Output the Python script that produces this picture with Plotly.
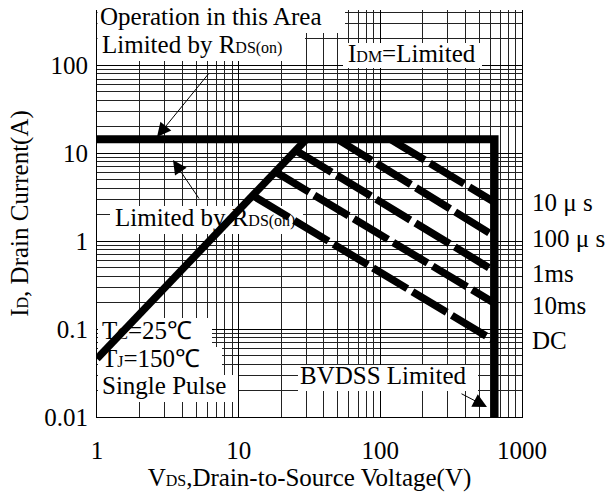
import plotly.graph_objects as go

# ---------------- data ----------------
idm_limit = 14.4            # A, horizontal I_DM limit
vds_max = 640               # V, BVDSS vertical limit
i_bottom = 0.01             # A, bottom of chart

rds_v = [1, 30]             # RDS(on) limit line
rds_i = [0.046, 14.4]

pulse_labels = ["10 μ s", "100 μ s", "1ms", "10ms", "DC"]
pulse_start_v = [118, 50, 26, 18, 13]
pulse_start_i = [14.4, 14.4, 10.5, 6.2, 3.2]
pulse_end_v = [640, 640, 640, 640, 640]
pulse_end_i = [2.77, 1.14, 0.457, 0.197, 0.073]

x_tickvals = [1, 10, 100, 1000]
x_ticktext = ["1", "10", "100", "1000"]
y_tickvals = [0.01, 0.1, 1, 10, 100]
y_ticktext = ["0.01", "0.1", "1", "10", "100"]

# ---------------- layout geometry ----------------
W, H = 607, 501
L, R, T, B = 97, 85, 10, 84
PW, PH = W - L - R, H - T - B
XR = [0, 3]
YR = [-2, 2.63]


def P(xp, yp):
    return (xp - L) / PW, (H - B - yp) / PH


def D(xp, yp):
    """pixel -> data coordinates (for placing label boxes / text)"""
    fx, fy = P(xp, yp)
    return 10 ** (XR[0] + fx * (XR[1] - XR[0])), 10 ** (YR[0] + fy * (YR[1] - YR[0]))


FONT = "Liberation Serif, Times New Roman, serif"
FS = 25
SUB = "<span style='font-size:16px'>{}</span>"

fig = go.Figure()

# ---- white label boxes (traces, so they sit above the grid) ----
boxes = [
    (97.5, 5, 345, 33),
    (97.5, 33, 305, 61),
    (343, 43, 482, 68),
    (110, 206, 303, 234),
    (98, 318, 212, 347),
    (98, 347, 222, 375),
    (98, 375, 238, 402),
    (298, 365, 478, 391),
]
for x0, y0, x1, y1 in boxes:
    a0, b0 = D(x0, y0)
    a1, b1 = D(x1, y1)
    fig.add_trace(go.Scatter(x=[a0, a1, a1, a0, a0], y=[b0, b0, b1, b1, b0],
                             mode="lines", fill="toself", fillcolor="white",
                             line=dict(width=0, color="white"),
                             showlegend=False, hoverinfo="skip"))

# ---- in-plot text labels (drawn before lines so lines are on top) ----
labels = [
    ("Operation in this Area", 100, 19),
    ("Limited by R" + SUB.format("DS(on)"), 102, 47),
    ("I" + SUB.format("DM") + "=Limited", 348, 56),
    ("Limited by R" + SUB.format("DS(on)"), 115, 220),
    ("T" + SUB.format("C") + "=25℃", 102, 333),
    ("T" + SUB.format("J") + "=150℃", 102, 361),
    ("Single Pulse", 102, 388),
    ("BVDSS Limited", 300, 378),
]
for txt, xp, yp in labels:
    xd, yd = D(xp, yp)
    fig.add_trace(go.Scatter(x=[xd], y=[yd], mode="text", text=[txt],
                             textposition="middle right", cliponaxis=False,
                             textfont=dict(family=FONT, size=FS, color="black"),
                             showlegend=False, hoverinfo="skip"))

# pulse lines (dashed)
for sv, si, ev, ei in zip(pulse_start_v, pulse_start_i, pulse_end_v, pulse_end_i):
    fig.add_trace(go.Scatter(x=[sv, ev], y=[si, ei], mode="lines",
                             line=dict(color="black", width=7.5, dash="40px,6px"),
                             showlegend=False, hoverinfo="skip"))

# RDS(on) line
fig.add_trace(go.Scatter(x=rds_v, y=rds_i, mode="lines",
                         line=dict(color="black", width=7.5),
                         showlegend=False, hoverinfo="skip"))
# IDM + BVDSS envelope
fig.add_trace(go.Scatter(x=[1, vds_max, vds_max], y=[idm_limit, idm_limit, i_bottom],
                         mode="lines", line=dict(color="black", width=8),
                         showlegend=False, hoverinfo="skip"))

x_minor = [m * 10 ** k for k in range(0, 3) for m in range(2, 10)]
y_minor = [m * 10.0 ** k for k in range(-2, 3) for m in range(2, 10)]
y_minor = [v for v in y_minor if v < 430]

fig.update_layout(
    width=W, height=H,
    margin=dict(l=L, r=R, t=T, b=B),
    paper_bgcolor="white", plot_bgcolor="white",
    font=dict(family=FONT, size=FS, color="black"),
    xaxis=dict(type="log", range=XR, tickmode="array",
               tickvals=x_tickvals, ticktext=x_ticktext,
               showgrid=True, gridcolor="black", gridwidth=1,
               minor=dict(tickmode="array", tickvals=x_minor, showgrid=True,
                          gridcolor="#222", gridwidth=1, ticks=""),
               showline=True, linecolor="black", linewidth=1,
               ticks="", ticklabelstandoff=11, zeroline=False,
               tickfont=dict(size=FS),
               title=dict(text="V" + SUB.format("DS") + ",Drain-to-Source Voltage(V)",
                          standoff=5, font=dict(size=FS))),
    yaxis=dict(type="log", range=YR, tickmode="array",
               tickvals=y_tickvals, ticktext=y_ticktext,
               showgrid=True, gridcolor="black", gridwidth=1,
               minor=dict(tickmode="array", tickvals=y_minor, showgrid=True,
                          gridcolor="#222", gridwidth=1, ticks=""),
               showline=True, linecolor="black", linewidth=1, mirror=True,
               ticks="", ticklabelstandoff=3, zeroline=False,
               tickfont=dict(size=FS),
               title=dict(text="I" + SUB.format("D") + ", Drain Current(A)",
                          standoff=8, font=dict(size=FS))),
)

ann = []
right_y = [202, 238, 273, 305, 340]
for lab, yp in zip(pulse_labels, right_y):
    x, y = P(530, yp)
    ann.append(dict(text=lab, x=x, y=y, xref="paper", yref="paper",
                    xanchor="left", yanchor="middle", showarrow=False,
                    font=dict(size=FS, family=FONT)))


def arrow(tip, tail):
    x, y = P(*tip)
    ann.append(dict(text="", x=x, y=y, xref="paper", yref="paper",
                    ax=tail[0] - tip[0], ay=tail[1] - tip[1],
                    showarrow=True, arrowhead=2, arrowsize=2.8, arrowwidth=1,
                    arrowcolor="black"))


arrow((157, 137), (210, 72))
arrow((173, 160), (200, 200))
arrow((487, 407), (460, 393))

fig.update_layout(annotations=ann)
fig.write_html("out.html", config={"displayModeBar": False},
               post_script="document.body.style.margin='0';document.body.style.padding='0';")
